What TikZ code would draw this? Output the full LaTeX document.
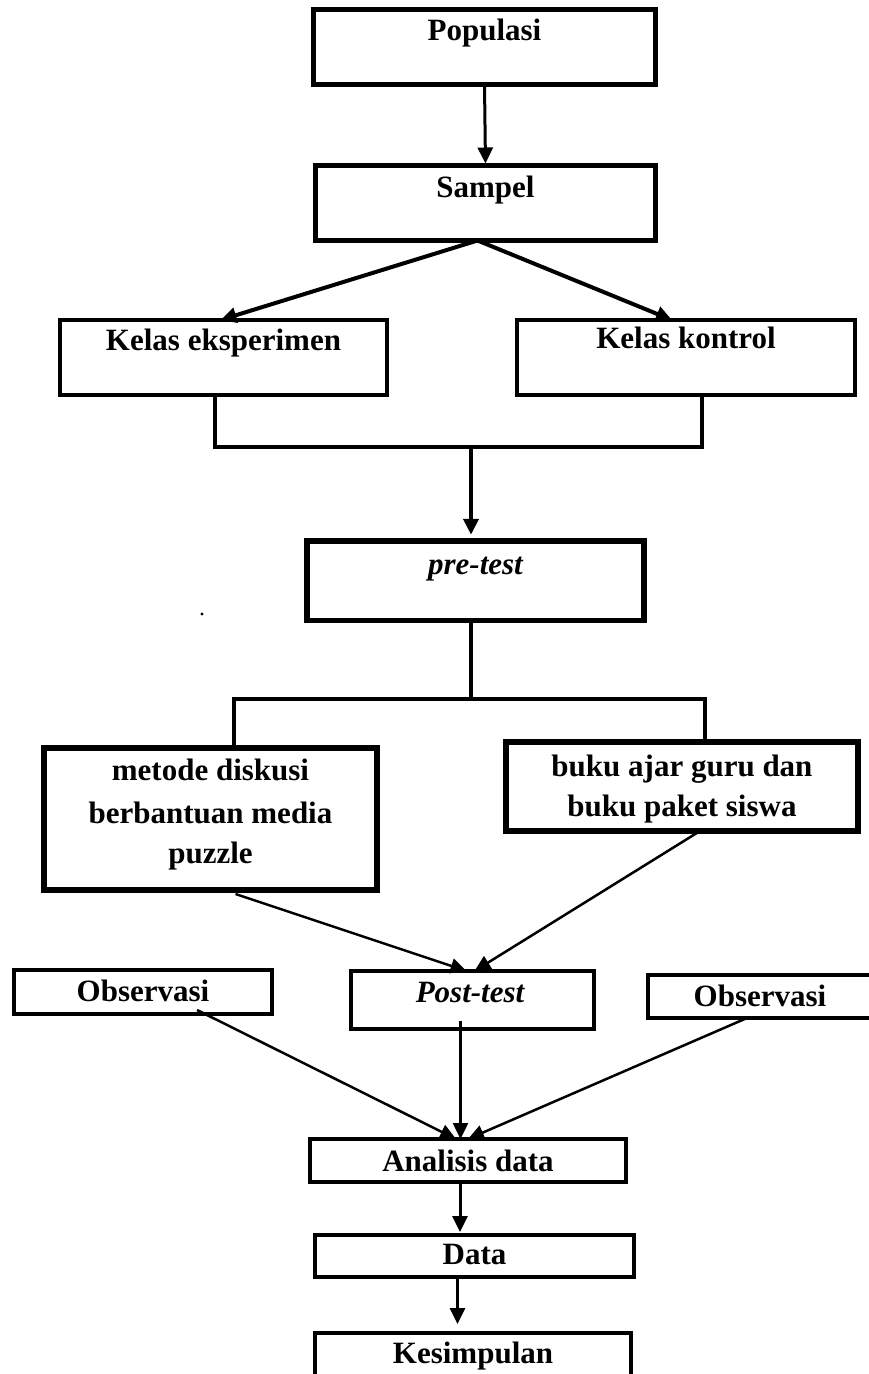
\documentclass[tikz,border=0pt]{standalone}
\usepackage{fontspec}
\setmainfont{Liberation Serif}
\usetikzlibrary{arrows.meta,calc}
\begin{document}
\begin{tikzpicture}[x=1pt,y=-1pt,
  box/.style={draw, line width=#1, inner sep=0pt, outer sep=0pt},
  lbl/.style={inner sep=0pt, outer sep=0pt, anchor=base, font=\fontsize{31}{37}\selectfont\bfseries},
  ilbl/.style={lbl, font=\fontsize{31}{37}\selectfont\bfseries\itshape},
  tip/.style={-{Triangle[length=16pt,width=15pt]}},
  conn/.style={line width=#1, line cap=rect},
]
\useasboundingbox (0,0) rectangle (869,1374);

% boxes
\node[box=5pt, minimum width=342pt, minimum height=75pt] (pop) at (484.5,47) {};
\node[box=5pt, minimum width=340pt, minimum height=75pt] (samp) at (485.5,203) {};
\node[box=4pt, minimum width=327pt, minimum height=75pt] (ke) at (223.5,357.5) {};
\node[box=4pt, minimum width=338pt, minimum height=75pt] (kk) at (686,357.5) {};
\node[box=5.5pt, minimum width=337pt, minimum height=79.5pt] (pre) at (475.5,580.5) {};
\node[box=6pt, minimum width=333pt, minimum height=142pt] (met) at (210.5,819) {};
\node[box=6pt, minimum width=352pt, minimum height=89pt] (buku) at (682,786.5) {};
\node[box=4pt, minimum width=258pt, minimum height=44pt] (obsL) at (143,992) {};
\node[box=4pt, minimum width=243pt, minimum height=58pt] (post) at (472.5,1000) {};
\node[box=4pt, minimum width=226pt, minimum height=43pt] (obsR) at (761,996.5) {};
\node[box=4pt, minimum width=316pt, minimum height=43pt] (ana) at (468,1160.5) {};
\node[box=4pt, minimum width=319pt, minimum height=42pt] (data) at (474.5,1256) {};
\node[box=4pt, minimum width=316pt, minimum height=67pt] (kes) at (473,1366.5) {};

% labels
\node[lbl] (popT) at (484.5,40) {Populasi};
\node[lbl] (sampT) at (485.5,197) {Sampel};
\node[lbl] (keT) at (223.5,350) {Kelas eksperimen};
\node[lbl] (kkT) at (686,348) {Kelas kontrol};
\node[ilbl] (preT) at (475.5,574) {pre-test};
\node[lbl] (m1) at (210.5,780) {metode diskusi};
\node[lbl] (m2) at (210.5,823) {berbantuan media};
\node[lbl] (m3) at (210.5,863) {puzzle};
\node[lbl] (b1) at (682,776) {buku ajar guru dan};
\node[lbl] (b2) at (682,816) {buku paket siswa};
\node[lbl] (obsLT) at (143,1001) {Observasi};
\node[ilbl] (postT) at (470,1002) {Post-test};
\node[lbl] (obsRT) at (760,1006) {Observasi};
\node[lbl] (anaT) at (468,1171) {Analisis data};
\node[lbl] (dataT) at (474.5,1264) {Data};
\node[lbl] (kesT) at (473,1363) {Kesimpulan};

\fill (202,614) circle (1.7);

% connectors
\draw[line width=3pt, tip, shorten >=2pt] (pop.south) -- (samp.north);
\draw[line width=4pt, tip] ($(samp.south)+(-8,0)$) -- ($(ke.north)+(-3,0)$);
\draw[line width=4pt, tip] ($(samp.south)+(-8,0)$) -- ($(kk.north)+(-14,0)$);

\coordinate (bl) at (215,447);
\coordinate (br) at (702,447);
\coordinate (bm) at (471,447);
\draw[conn=3.5pt] (ke.south -| bl) -- (bl) -- (br) -- (kk.south -| br);
\draw[line width=4pt, tip, shorten >=6pt] (bm) -- (pre.north -| bm);

\coordinate (cl) at (234,699);
\coordinate (cr) at (705,699);
\coordinate (cm) at (471,699);
\draw[conn=3.5pt] (pre.south -| cm) -- (cm);
\draw[conn=3.5pt] (met.north -| cl) -- (cl) -- (cr) -- (buku.north -| cr);

\draw[line width=2.5pt, tip] ($(met.south)+(25,4)$) -- ($(post.north)+(-6,0)$);
\draw[line width=2.5pt, tip] ($(buku.south)+(18,0)$) -- ($(post.north)+(2,0)$);

\draw[line width=2.5pt, tip] ($(obsL.south)+(54,-4)$) -- ($(ana.north)+(-12,0)$);
\draw[line width=2.5pt, tip] ($(post.south)+(-12,-8)$) -- ($(ana.north)+(-7.5,0)$);
\draw[line width=2.5pt, tip] ($(obsR.south)+(-14,0)$) -- (ana.north);

\draw[line width=3pt, tip, shorten >=3pt] ($(ana.south)+(-8,0)$) -- ($(data.north)+(-14.5,0)$);
\draw[line width=3pt, tip, shorten >=9pt] ($(data.south)+(-17,0)$) -- ($(kes.north)+(-15.5,0)$);
\end{tikzpicture}
\end{document}
